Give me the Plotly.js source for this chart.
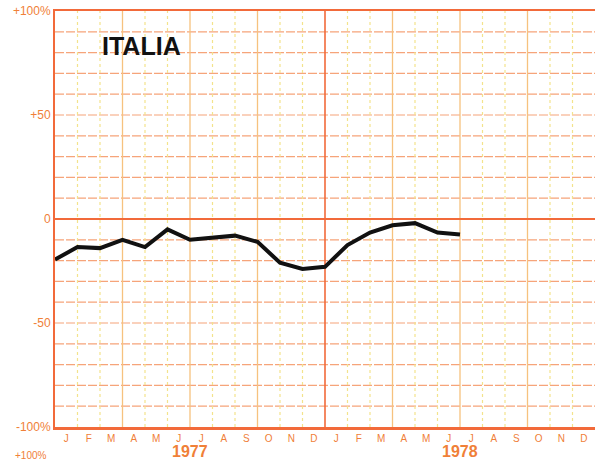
<!DOCTYPE html>
<html>
<head>
<meta charset="utf-8">
<script src="https://cdn.plot.ly/plotly-3.0.1.min.js"></script>
<style>html,body{margin:0;padding:0;background:#fff;}#chart{width:595px;height:464px;}</style>
</head>
<body>
<div id="chart"></div>
<script>
// Data (monthly change, %, from Jan 1977 to Jul 1978, read at month boundaries)
const monthLetters = ['J','F','M','A','M','J','J','A','S','O','N','D','J','F','M','A','M','J','J','A','S','O','N','D'];
const years = ['1977', '1978'];
const values = [-19.5, -13.5, -14, -10, -13.5, -5, -10, -9, -8, -11, -21, -24, -23, -12.5, -6.5, -3, -2, -6.5, -7.5];
const yTickVals = [100, 50, 0, -50, -100];
const yTickText = ['+100%', '+50', '0', '-50', '-100%'];
const title = 'ITALIA';

const ORANGE = '#f08038';
const RED = '#f26a3a';
const LIGHT = '#f6a47a';
const QUART = '#f6c27e';
const YELLOW = '#f3e38c';

const nMonths = monthLetters.length;
const xs = values.map((_, i) => i);
const labelPos = monthLetters.map((_, i) => i + 0.5);

// grid lines as layout shapes (styling only)
const shapes = [];
for (let v = -90; v <= 90; v += 10) {
  if (v === 0) continue;
  shapes.push({type: 'line', layer: 'below', xref: 'paper', x0: 0, x1: 1, yref: 'y', y0: v, y1: v,
               line: {color: LIGHT, width: 1.2, dash: '9px,2px'}});
}
for (let m = 1; m < nMonths; m++) {
  let style;
  if (m === 12) style = {color: RED, width: 1.6};
  else if (m % 3 === 0) style = {color: QUART, width: 1.3};
  else style = {color: YELLOW, width: 1.2, dash: 'dot'};
  shapes.push({type: 'line', layer: 'below', xref: 'x', x0: m, x1: m, yref: 'paper', y0: 0, y1: 1, line: style});
}

const traces = [
  {x: xs, y: values, type: 'scatter', mode: 'lines',
   line: {color: '#111', width: 4, shape: 'linear'}, hoverinfo: 'skip', showlegend: false}
];

const fontFam = 'Liberation Sans, Arial, sans-serif';

const layout = {
  width: 595, height: 464,
  margin: {l: 55, r: 0, t: 11, b: 37},
  paper_bgcolor: '#fff', plot_bgcolor: '#fff',
  showlegend: false,
  shapes: shapes,
  xaxis: {
    range: [0, nMonths], tickmode: 'array', tickvals: labelPos, ticktext: monthLetters,
    showgrid: false, zeroline: false, ticks: '', ticklen: 0,
    tickfont: {family: fontFam, size: 10, color: ORANGE},
    showline: true, linecolor: RED, linewidth: 2.5, mirror: true,
    fixedrange: true
  },
  yaxis: {
    range: [-100, 100], tickmode: 'array', tickvals: yTickVals, ticktext: yTickText,
    showgrid: false, ticks: '', ticklen: 0,
    tickfont: {family: fontFam, size: 12, color: ORANGE},
    zeroline: true, zerolinecolor: RED, zerolinewidth: 1.8,
    showline: true, linecolor: RED, linewidth: 2, mirror: false,
    fixedrange: true
  },
  annotations: [
    {text: '<b>' + title + '</b>', xref: 'paper', yref: 'paper', x: 0.161, y: 0.916,
     xanchor: 'center', yanchor: 'middle', showarrow: false,
     font: {family: fontFam, size: 25, color: '#111'}},
    {text: '<b>' + years[0] + '</b>', xref: 'x', yref: 'paper', x: 6, y: -0.058,
     xanchor: 'center', yanchor: 'middle', showarrow: false,
     font: {family: fontFam, size: 16, color: ORANGE}},
    {text: '<b>' + years[1] + '</b>', xref: 'x', yref: 'paper', x: 18, y: -0.058,
     xanchor: 'center', yanchor: 'middle', showarrow: false,
     font: {family: fontFam, size: 16, color: ORANGE}},
    {text: yTickText[0], xref: 'paper', yref: 'paper', x: -0.012, y: -0.087,
     xanchor: 'right', yanchor: 'bottom', showarrow: false,
     font: {family: fontFam, size: 10, color: ORANGE}}
  ]
};

Plotly.newPlot('chart', traces, layout, {staticPlot: true, displayModeBar: false});
</script>
</body>
</html>
